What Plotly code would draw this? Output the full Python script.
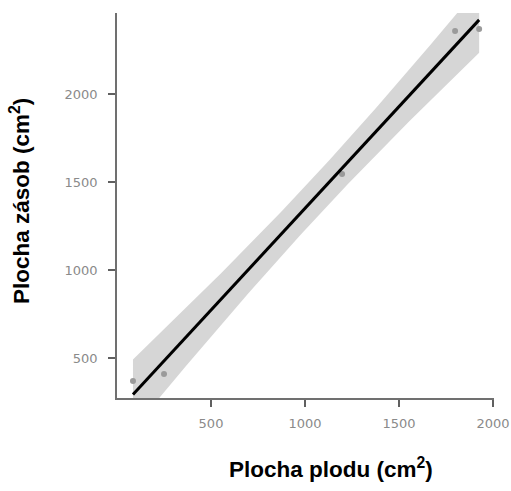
import numpy as np
import plotly.graph_objects as go

# Data
plocha_plodu = [85, 250, 1197, 1798, 1926]      # x, cm^2
plocha_zasob = [369, 409, 1545, 2358, 2369]     # y, cm^2
x_ticks = [500, 1000, 1500, 2000]
y_ticks = [500, 1000, 1500, 2000]

# Linear regression with 95% confidence band (statistical transform of the data)
x = np.array(plocha_plodu, float)
y = np.array(plocha_zasob, float)
n = len(x)
slope, intercept = np.polyfit(x, y, 1)
resid = y - (intercept + slope * x)
s = np.sqrt(np.sum(resid ** 2) / (n - 2))
t_crit = 3.182  # t(0.975, df=3)
xg = np.linspace(x.min(), x.max(), 80)
yg = intercept + slope * xg
se = s * np.sqrt(1 / n + (xg - x.mean()) ** 2 / np.sum((x - x.mean()) ** 2))
upper = yg + t_crit * se
lower = yg - t_crit * se

fig = go.Figure()
fig.add_trace(go.Scatter(
    x=np.concatenate([xg, xg[::-1]]), y=np.concatenate([upper, lower[::-1]]),
    fill="toself", fillcolor="#d6d6d6", line=dict(width=0), mode="lines",
    hoverinfo="skip", showlegend=False))
fig.add_trace(go.Scatter(
    x=plocha_plodu, y=plocha_zasob, mode="markers",
    marker=dict(color="#9a9a9a", size=6), showlegend=False, cliponaxis=True))
fig.add_trace(go.Scatter(
    x=xg, y=yg, mode="lines", line=dict(color="black", width=3), showlegend=False))

axis_common = dict(
    showgrid=False, zeroline=False, showline=True, linecolor="#707070", linewidth=1.5,
    ticks="outside", ticklen=7, tickwidth=1.5, tickcolor="#606060",
    tickfont=dict(family="DejaVu Sans", size=13, color="#8a8a8a"),
    automargin=False,
)
fig.update_xaxes(range=[0, 2005], tickvals=x_ticks, ticklabelstandoff=6, **axis_common)
fig.update_yaxes(range=[273, 2460], tickvals=y_ticks, ticklabelstandoff=8, **axis_common)

title_font = dict(family="Liberation Sans", size=22.5, color="black")
fig.add_annotation(text="<b>Plocha plodu (cm<sup>2</sup>)</b>", xref="paper", yref="paper",
                   x=(331 - 117) / 377, y=-(468 - 398) / 385, xanchor="center", yanchor="middle",
                   showarrow=False, font=title_font)
fig.add_annotation(text="<b>Plocha zásob (cm<sup>2</sup>)</b>", xref="paper", yref="paper",
                   x=-(117 - 20) / 377, y=(398 - 201) / 385, xanchor="center", yanchor="middle",
                   textangle=-90, showarrow=False, font=title_font)

fig.update_layout(
    width=511, height=491, margin=dict(l=117, r=17, t=13, b=93),
    plot_bgcolor="white", paper_bgcolor="white",
)
fig.write_html("out.html")
